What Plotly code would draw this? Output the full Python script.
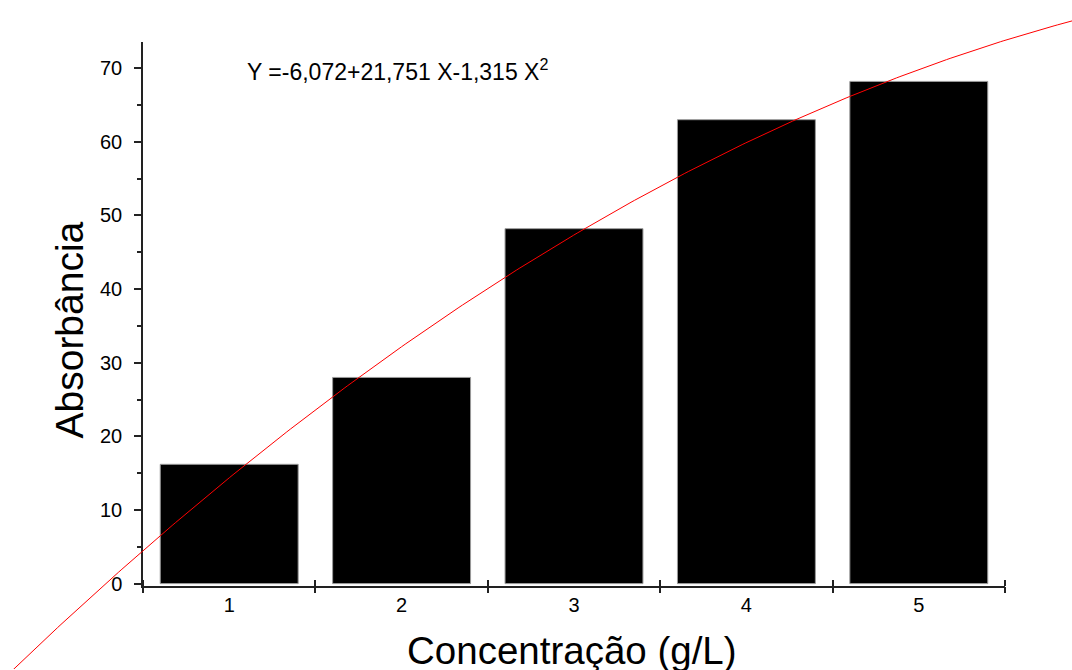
import numpy as np
import plotly.graph_objects as go

# ---- data ----
concentrations = [1, 2, 3, 4, 5]
absorbance = [16.2, 28.0, 48.2, 63.0, 68.2]
fit_coefs = [-6.072, 21.751, -1.315]   # Y = a + bX + cX^2 (from the chart)
y_ticks = [0, 10, 20, 30, 40, 50, 60, 70]
y_minor = [5, 15, 25, 35, 45, 55, 65]
x_bounds = [0.5, 1.5, 2.5, 3.5, 4.5, 5.5]
equation_text = "Y =-6,072+21,751 X-1,315 X<sup>2</sup>"
x_title = "Concentração (g/L)"
y_title = "Absorbância"

# ---- layout geometry ----
K = 678 / 670          # vertical capture factor
W, H = 1072, 678
px_left, px_right = 143, 1005
px_top, px_bottom = 41.7 * K, 586.7 * K
x_range = [0.5, 5.5]
y_range = [-0.3, 73.6]
sx = (px_right - px_left) / (x_range[1] - x_range[0])
sy = (px_bottom - px_top) / (y_range[1] - y_range[0])

full_x = [x_range[0] - px_left / sx, x_range[1] + (W - px_right) / sx]
full_y = [y_range[0] - (H - px_bottom) / sy, y_range[1] + px_top / sy]

xc = np.linspace(full_x[0], full_x[1], 300)
yc = fit_coefs[0] + fit_coefs[1] * xc + fit_coefs[2] * xc ** 2

font = "Liberation Sans, Arial, sans-serif"
axc = "#222"

fig = go.Figure()
fig.add_trace(go.Bar(x=concentrations, y=absorbance, width=0.8,
                     marker=dict(color="black", line=dict(color="#9a9a9a", width=1)),
                     xaxis="x", yaxis="y", showlegend=False))
fig.add_trace(go.Scatter(x=[None], y=[None], xaxis="x3", yaxis="y",
                         showlegend=False, hoverinfo="skip"))
fig.add_trace(go.Scatter(x=xc, y=yc, mode="lines", line=dict(color="#ff0000", width=1),
                         xaxis="x2", yaxis="y2", showlegend=False))

dom_x = [px_left / W, px_right / W]
dom_y = [1 - px_bottom / H, 1 - px_top / H]

def py(p):
    return 1 - p * K / H

def pxp(p):
    return p / W

fig.update_layout(
    width=W, height=H,
    margin=dict(l=0, r=0, t=0, b=0),
    paper_bgcolor="white", plot_bgcolor="rgba(0,0,0,0)",
    font=dict(family=font, color="black"),
    xaxis=dict(domain=dom_x, range=x_range, anchor="y",
               tickmode="array", tickvals=concentrations, ticks="",
               showgrid=False, zeroline=False, showline=True, linecolor=axc, linewidth=1.5,
               tickfont=dict(size=20, family=font), ticklabelstandoff=0,
               minor=dict(tickvals=x_bounds, ticks="inside", ticklen=6, tickwidth=1.5, tickcolor=axc)),
    xaxis3=dict(domain=dom_x, range=x_range, anchor="y", overlaying="x",
                tickmode="array", tickvals=x_bounds, ticks="outside", ticklen=6, tickwidth=1.5,
                tickcolor=axc, showticklabels=False, showgrid=False, zeroline=False, showline=False),
    yaxis=dict(domain=dom_y, range=y_range, anchor="x",
               tickmode="array", tickvals=y_ticks, ticks="outside", ticklen=7, tickwidth=1.5,
               tickcolor=axc,
               showgrid=False, zeroline=False, showline=True, linecolor=axc, linewidth=1.5,
               tickfont=dict(size=20, family=font), ticklabelstandoff=8,
               minor=dict(tickvals=y_minor, ticks="outside", ticklen=4,
                          tickwidth=1.5, tickcolor=axc)),
    xaxis2=dict(domain=[0, 1], range=full_x, anchor="y2", visible=False, fixedrange=True),
    yaxis2=dict(domain=[0, 1], range=full_y, anchor="x2", visible=False, fixedrange=True),
    annotations=[
        dict(text=equation_text, x=pxp(245), y=py(70), xref="paper", yref="paper",
             xanchor="left", yanchor="middle", showarrow=False,
             font=dict(size=23, family=font, color="black")),
        dict(text=x_title, x=pxp(572), y=py(651), xref="paper", yref="paper",
             xanchor="center", yanchor="middle", showarrow=False,
             font=dict(size=38.5, family=font, color="black")),
        dict(text=y_title, x=pxp(70), y=py(331), xref="paper", yref="paper",
             xanchor="center", yanchor="middle", showarrow=False, textangle=-90,
             font=dict(size=39, family=font, color="black")),
    ],
)

fig.write_html("out.html", config={"displayModeBar": False},
               post_script="document.body.style.margin='0';document.body.style.overflow='hidden';")
